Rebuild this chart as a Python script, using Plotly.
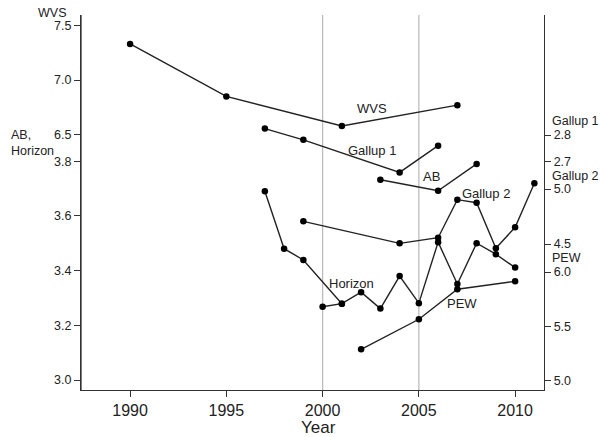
import plotly.graph_objects as go

# ---- data ----
wvs_years = [1990, 1995, 2001, 2007]
wvs_values = [7.33, 6.85, 6.58, 6.77]

gallup1_years = [1997, 1999, 2004, 2006]
gallup1_values = [2.824, 2.782, 2.660, 2.760]

ab_years = [2003, 2006, 2008]
ab_values = [3.732, 3.692, 3.790]

gallup2_years = [1999, 2004, 2006, 2007, 2008, 2009, 2010, 2011]
gallup2_values = [4.706, 4.506, 4.557, 4.903, 4.875, 4.461, 4.652, 5.052]

horizon_early_years = [1997, 1998, 1999, 2001]
horizon_early_values = [3.690, 3.480, 3.439, 3.279]
horizon_years = [2000, 2001, 2002, 2003, 2004, 2005, 2006, 2007, 2008, 2009, 2010]
horizon_values = [3.268, 3.279, 3.321, 3.261, 3.380, 3.281, 3.504, 3.351, 3.500, 3.460, 3.411]

pew_years = [2002, 2005, 2007, 2010]
pew_values = [5.289, 5.565, 5.841, 5.914]

ref_years = [2000, 2005]
x_ticks = [1990, 1995, 2000, 2005, 2010]
wvs_ticks = [6.5, 7.0, 7.5]
ab_ticks = [3.0, 3.2, 3.4, 3.6, 3.8]
gallup1_ticks = [2.7, 2.8]
gallup2_ticks = [4.5, 5.0]
pew_ticks = [5.0, 5.5, 6.0]

# ---- style ----
FONT = "Liberation Sans"
INK = "#222222"
AXC = "#333333"
line_style = dict(color=INK, width=1.4)
marker_style = dict(color="black", size=6.5)

fig = go.Figure()

def add(xs, ys, axis):
    fig.add_trace(go.Scatter(x=xs, y=ys, yaxis=axis, mode="lines+markers",
                             line=line_style, marker=marker_style,
                             showlegend=False, hoverinfo="skip"))

for yr in ref_years:
    fig.add_vline(x=yr, line=dict(color="#bdbdbd", width=1.3), layer="below")

add(wvs_years, wvs_values, "y")
add(gallup1_years, gallup1_values, "y3")
add(ab_years, ab_values, "y2")
add(gallup2_years, gallup2_values, "y4")
add(horizon_early_years, horizon_early_values, "y2")
add(horizon_years, horizon_values, "y2")
add(pew_years, pew_values, "y5")

tickfont = dict(family=FONT, size=12.5, color=INK)

def yax(rng, ticks, side, overlay=True):
    d = dict(range=rng, tickvals=ticks, tickformat=".1f", side=side,
             showgrid=False, zeroline=False, showline=True,
             linecolor=AXC, linewidth=1.3, ticks="outside", ticklen=6,
             tickcolor=AXC, tickwidth=1.2, tickfont=tickfont, fixedrange=True,
             automargin=False)
    if overlay:
        d["overlaying"] = "y"
    return d

fig.update_layout(
    width=600, height=437,
    margin=dict(l=81, r=56, t=15, b=47),
    paper_bgcolor="white", plot_bgcolor="white",
    font=dict(family=FONT, color=INK),
    xaxis=dict(range=[1987.45, 2011.5], tickvals=x_ticks, showgrid=False,
               zeroline=False, showline=True, linecolor=AXC, linewidth=1.3,
               ticks="outside", ticklen=6, tickcolor=AXC, tickwidth=1.2,
               automargin=False, fixedrange=True,
               tickfont=dict(family=FONT, size=16, color=INK)),
    yaxis=yax([4.1664, 7.5941], wvs_ticks, "left", overlay=False),
    yaxis2=yax([2.96344, 4.33455], ab_ticks, "left"),
    yaxis3=yax([1.84494, 3.24944], gallup1_ticks, "right"),
    yaxis4=yax([3.17273, 6.58182], gallup2_ticks, "right"),
    yaxis5=yax([4.91444, 8.36431], pew_ticks, "right"),
)

# left axis line (frame edge of the plotting area)
fig.add_shape(type="line", xref="paper", yref="paper", x0=0, x1=0, y0=0, y1=1,
              line=dict(color=AXC, width=1.3), layer="above")

# x-axis title
fig.add_annotation(text="Year", x=0.5128, y=-0.101, xref="paper", yref="paper",
                   xanchor="center", yanchor="middle", showarrow=False,
                   font=dict(family=FONT, size=17, color=INK))

# axis-group titles
axis_titles = [
    ("WVS", -0.0633, 1.006, "center"),
    ("AB,<br>Horizon", -0.1555, 0.66, "left"),
    ("Gallup 1", 1.012, 0.7173, "left"),
    ("Gallup 2", 1.012, 0.5707, "left"),
    ("PEW", 1.012, 0.352, "left"),
]
for text, px, py, anc in axis_titles:
    fig.add_annotation(text=text, x=px, y=py, xref="paper", yref="paper",
                       xanchor=anc, yanchor="middle", align="left",
                       showarrow=False, font=dict(family=FONT, size=12.5, color=INK))

# series labels (data coordinates on each series' own axis)
small = dict(family=FONT, size=13, color=INK)
series_labels = [
    ("WVS", 2002.59, 6.741, "y"),
    ("Gallup 1", 2002.56, 2.7427, "y3"),
    ("AB", 2005.65, 3.743, "y2"),
    ("Gallup 2", 2008.48, 4.961, "y4"),
    ("Horizon", 2001.48, 3.352, "y2"),
    ("PEW", 2007.26, 5.712, "y5"),
]
for text, lx, ly, yr in series_labels:
    fig.add_annotation(text=text, x=lx, y=ly, xref="x", yref=yr,
                       xanchor="center", yanchor="middle",
                       showarrow=False, font=small)

# remove the default 8px page margin so the 600x437 figure fills the window
fig.write_html("out.html", config={"displayModeBar": False},
               post_script="document.body.style.margin='0';")
